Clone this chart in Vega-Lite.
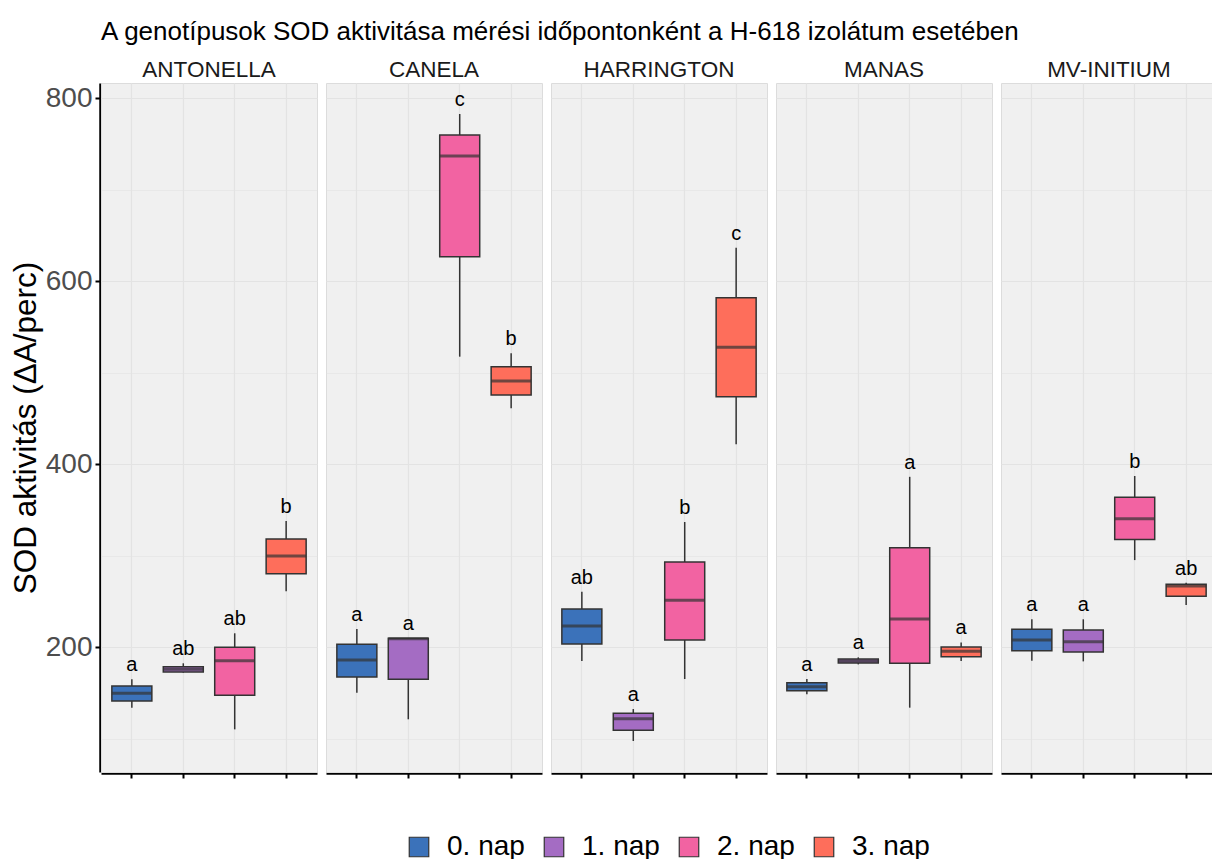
{
  "$schema": "https://vega.github.io/schema/vega-lite/v6.json",
  "background": "white",
  "padding": {"left": 10, "top": 18, "right": 0, "bottom": 0},
  "title": {"text": "A genotípusok SOD aktivitása mérési időpontonként a H-618 izolátum esetében", "anchor": "start", "frame": "group", "fontSize": 26, "fontWeight": "normal", "font": "Liberation Sans", "color": "black", "offset": 14},
  "data": {"values": [
    {"genotype": "ANTONELLA", "nap": "0. nap", "min": 133.7, "q1": 141, "median": 149.4, "q3": 157.4, "max": 164.7, "letter": "a"},
    {"genotype": "ANTONELLA", "nap": "1. nap", "min": 172, "q1": 172.7, "median": 175.6, "q3": 178.5, "max": 182.2, "letter": "ab"},
    {"genotype": "ANTONELLA", "nap": "2. nap", "min": 110, "q1": 147.2, "median": 185, "q3": 199.7, "max": 215, "letter": "ab"},
    {"genotype": "ANTONELLA", "nap": "3. nap", "min": 261, "q1": 280, "median": 299.5, "q3": 318, "max": 337.7, "letter": "b"},
    {"genotype": "CANELA", "nap": "0. nap", "min": 150, "q1": 167.2, "median": 185.8, "q3": 203, "max": 219.7, "letter": "a"},
    {"genotype": "CANELA", "nap": "1. nap", "min": 121, "q1": 164.7, "median": 209, "q3": 209.5, "max": 209.5, "letter": "a"},
    {"genotype": "CANELA", "nap": "2. nap", "min": 517.3, "q1": 626.5, "median": 736.6, "q3": 759.6, "max": 782.5, "letter": "c"},
    {"genotype": "CANELA", "nap": "3. nap", "min": 460.9, "q1": 475.4, "median": 490.7, "q3": 506.3, "max": 521, "letter": "b"},
    {"genotype": "HARRINGTON", "nap": "0. nap", "min": 184.7, "q1": 203.3, "median": 223, "q3": 241.5, "max": 260.4, "letter": "ab"},
    {"genotype": "HARRINGTON", "nap": "1. nap", "min": 97.3, "q1": 109, "median": 121.6, "q3": 127.5, "max": 132.2, "letter": "a"},
    {"genotype": "HARRINGTON", "nap": "2. nap", "min": 165, "q1": 207.7, "median": 251, "q3": 293, "max": 336.6, "letter": "b"},
    {"genotype": "HARRINGTON", "nap": "3. nap", "min": 421.5, "q1": 473.6, "median": 527.5, "q3": 581.7, "max": 636.4, "letter": "c"},
    {"genotype": "MANAS", "nap": "0. nap", "min": 148.3, "q1": 152.3, "median": 156.6, "q3": 161, "max": 165, "letter": "a"},
    {"genotype": "MANAS", "nap": "1. nap", "min": 181, "q1": 182.5, "median": 184.7, "q3": 186.9, "max": 188.7, "letter": "a"},
    {"genotype": "MANAS", "nap": "2. nap", "min": 133.7, "q1": 182.2, "median": 230.6, "q3": 308.5, "max": 386, "letter": "a"},
    {"genotype": "MANAS", "nap": "3. nap", "min": 184.7, "q1": 189.4, "median": 195.3, "q3": 200, "max": 205, "letter": "a"},
    {"genotype": "MV-INITIUM", "nap": "0. nap", "min": 185, "q1": 196, "median": 207.7, "q3": 219.3, "max": 230.3, "letter": "a"},
    {"genotype": "MV-INITIUM", "nap": "1. nap", "min": 184.3, "q1": 194.5, "median": 205.8, "q3": 218.6, "max": 230.3, "letter": "a"},
    {"genotype": "MV-INITIUM", "nap": "2. nap", "min": 295, "q1": 317.4, "median": 340.3, "q3": 363.6, "max": 386.9, "letter": "b"},
    {"genotype": "MV-INITIUM", "nap": "3. nap", "min": 245.9, "q1": 255.4, "median": 266.7, "q3": 268.5, "max": 270.3, "letter": "ab"}
  ]},
  "facet": {"column": {"field": "genotype", "type": "nominal", "header": {"title": null, "labelFontSize": 22.5, "labelFont": "Liberation Sans", "labelColor": "#1A1A1A", "labelPadding": 1}}},
  "spacing": 7,
  "spec": {
    "width": 216,
    "height": 689,
    "encoding": {
      "x": {"field": "nap", "type": "nominal", "scale": {"paddingInner": 0, "paddingOuter": 0.1}, "axis": {"title": null, "labels": false, "ticks": true, "tickSize": 5, "tickColor": "black", "tickWidth": 2, "domainColor": "black", "domainWidth": 2.5, "grid": true, "gridColor": "#E3E3E3", "gridWidth": 1.2, "bandPosition": 0.5}}
    },
    "layer": [
      {
        "mark": {"type": "rule", "color": "#333333", "strokeWidth": 1.5},
        "encoding": {
          "y": {"field": "min", "type": "quantitative", "scale": {"domain": [63.4, 816.4], "nice": false, "zero": false},
            "axis": {"title": "SOD aktivitás (ΔA/perc)", "titleFontSize": 31.5, "titleFont": "Liberation Sans", "titleFontWeight": "normal", "titleColor": "black", "titlePadding": 3,
              "values": [100, 200, 300, 400, 500, 600, 700, 800],
              "labelExpr": "datum.value % 200 == 0 ? datum.label : ''",
              "labelFontSize": 28, "labelFont": "Liberation Sans", "labelColor": "#4D4D4D", "labelPadding": 3,
              "tickSize": 5, "tickColor": "black", "tickWidth": 2,
              "tickOpacity": {"condition": {"test": "datum.value % 200 == 0", "value": 1}, "value": 0},
              "domainColor": "black", "domainWidth": 2.5,
              "grid": true, "gridColor": "#E3E3E3",
              "gridWidth": {"condition": {"test": "datum.value % 200 == 0", "value": 1.2}, "value": 0.6}}},
          "y2": {"field": "max"}
        }
      },
      {
        "mark": {"type": "bar", "size": 40, "stroke": "#333333", "strokeWidth": 1.5},
        "encoding": {
          "y": {"field": "q1", "type": "quantitative"},
          "y2": {"field": "q3"},
          "fill": {"field": "nap", "type": "nominal", "scale": {"domain": ["0. nap", "1. nap", "2. nap", "3. nap"], "range": ["#3B72BA", "#A46CC3", "#F263A2", "#FE6E5B"]},
            "legend": {"title": null, "orient": "none", "legendX": 304, "legendY": 750, "direction": "horizontal", "labelFontSize": 28, "labelFont": "Liberation Sans", "labelColor": "black", "symbolType": "square", "symbolSize": 380, "symbolStrokeColor": "#333333", "symbolStrokeWidth": 1.2, "columnPadding": 15, "labelOffset": 14}}
        }
      },
      {
        "mark": {"type": "tick", "orient": "horizontal", "size": 40, "thickness": 3, "color": "#333333"},
        "encoding": {"y": {"field": "median", "type": "quantitative"}}
      },
      {
        "mark": {"type": "text", "baseline": "middle", "dy": -14, "fontSize": 20, "font": "Liberation Sans", "color": "black"},
        "encoding": {"y": {"field": "max", "type": "quantitative"}, "text": {"field": "letter"}}
      }
    ]
  },
  "config": {
    "view": {"fill": "#F0F0F0", "stroke": "#DCDCDC"},
    "axis": {"labelFont": "Liberation Sans"}
  }
}
